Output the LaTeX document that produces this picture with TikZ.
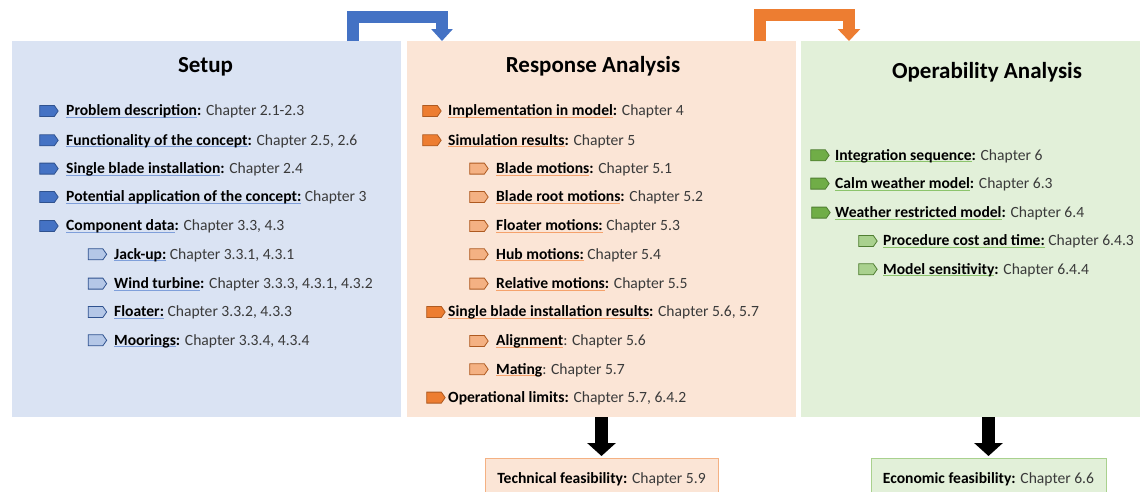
\documentclass[tikz,border=0pt]{standalone}
\usepackage{fontspec}
\setmainfont{Carlito}
\usetikzlibrary{arrows.meta,shapes.symbols}
\definecolor{setupfill}{HTML}{DAE3F3}
\definecolor{respfill}{HTML}{FBE5D6}
\definecolor{operfill}{HTML}{E2F0D9}
\definecolor{arrblue}{HTML}{4472C4}
\definecolor{arrorange}{HTML}{ED7D31}
\definecolor{txtgray}{HTML}{3A3A3A}
\definecolor{ulblue}{HTML}{7F9FDA}
\definecolor{ulorange}{HTML}{F5A26C}
\definecolor{ulgreen}{HTML}{8CC46C}
\definecolor{bl1}{HTML}{4472C4}
\definecolor{bl2}{HTML}{B4C7E7}
\definecolor{bld}{HTML}{2F528F}
\definecolor{or1}{HTML}{ED7D31}
\definecolor{or2}{HTML}{F4B183}
\definecolor{ord}{HTML}{AE5A21}
\definecolor{gr1}{HTML}{70AD47}
\definecolor{gr2}{HTML}{A9D18E}
\definecolor{grd}{HTML}{507E32}
\definecolor{orbord}{HTML}{F4B183}
\definecolor{grbord}{HTML}{A9D18E}
\newsavebox\myulbox
\newcommand\myul[2]{\sbox\myulbox{#2}\rlap{\textcolor{#1}{\rule[-2.4pt]{\wd\myulbox}{1pt}}}\usebox\myulbox}
\newcommand\ubl[1]{\textbf{\textcolor{black}{\myul{ulblue}{#1}}}}
\newcommand\uor[1]{\textbf{\textcolor{black}{\myul{ulorange}{#1}}}}
\newcommand\ugr[1]{\textbf{\textcolor{black}{\myul{ulgreen}{#1}}}}
\newcommand\cln{\textbf{\textcolor{black}{:}}}
\newcommand\bk[1]{\textbf{\textcolor{black}{#1}}}
\newcommand\entry[6]{\node[#2] (#1m) at (#3,#5-4.7) {}; \node[txt] (#1) at (#4,#5) {#6};}
\tikzset{
  panel/.style={anchor=north west, inner sep=0, draw=none},
  txt/.style={anchor=base west, inner sep=0, text=txtgray, font=\fontsize{15.6}{18}\selectfont},
  ttl/.style={anchor=base, inner sep=0, text=black, font=\fontsize{23}{26}\selectfont\bfseries},
  mk/.style={signal, signal to=east, signal pointer angle=110, minimum width=18.5pt, minimum height=11pt, inner sep=0, line width=0.8pt},
  mkb1/.style={mk, fill=bl1, draw=bld},
  mkb2/.style={mk, fill=bl2, draw=bld},
  mko1/.style={mk, fill=or1, draw=ord},
  mko2/.style={mk, fill=or2, draw=ord},
  mkg1/.style={mk, fill=gr1, draw=grd},
  mkg2/.style={mk, fill=gr2, draw=grd},
  elbow/.style={line width=12pt},
  downarr/.style={line width=12.5pt, black, -{Triangle[width=28pt,length=13pt]}},
  feas/.style={anchor=north, inner sep=0, line width=1pt, minimum height=50pt},
}
\begin{document}
\begin{tikzpicture}[x=1pt,y=-1pt]
\path[use as bounding box] (0,0) rectangle (1140,491);
\clip (0,0) rectangle (1140,491);
% panels
\node[panel, fill=setupfill, minimum width=389pt, minimum height=376pt] (setup) at (12,41) {};
\node[panel, fill=respfill, minimum width=389pt, minimum height=376pt] (resp) at (407,41) {};
\node[panel, fill=operfill, minimum width=340pt, minimum height=376pt] (oper) at (801,41) {};
% titles
\node[ttl] (setupt) at (205.5,72.7) {Setup};
\node[ttl] (respt) at (593,72.7) {Response Analysis};
\node[ttl] (opert) at (987,78.3) {Operability Analysis};
% Setup entries
\entry{s1}{mkb1}{47}{66}{115.7}{\ubl{Problem description}\cln{} Chapter 2.1-2.3}
\entry{s2}{mkb1}{47}{66}{145}{\ubl{Functionality of the concept}\cln{} Chapter 2.5, 2.6}
\entry{s3}{mkb1}{47}{66}{173.3}{\ubl{Single blade installation}\cln{} Chapter 2.4}
\entry{s4}{mkb1}{47}{66}{201.7}{\ubl{Potential application of the concept:} Chapter 3}
\entry{s5}{mkb1}{47}{66}{230.7}{\ubl{Component data}\cln{} Chapter 3.3, 4.3}
\entry{s6}{mkb2}{95.5}{114}{259}{\ubl{Jack-up:} Chapter 3.3.1, 4.3.1}
\entry{s7}{mkb2}{95.5}{114}{288.3}{\ubl{Wind turbine}\cln{} Chapter 3.3.3, 4.3.1, 4.3.2}
\entry{s8}{mkb2}{95.5}{114}{316.7}{\ubl{Floater:} Chapter 3.3.2, 4.3.3}
\entry{s9}{mkb2}{95.5}{114}{345}{\ubl{Moorings}\cln{} Chapter 3.3.4, 4.3.4}
% Response entries
\entry{r1}{mko1}{430}{448}{115.7}{\uor{Implementation in model}\cln{} Chapter 4}
\entry{r2}{mko1}{430}{448}{145}{\uor{Simulation results}\cln{} Chapter 5}
\entry{r3}{mko2}{477}{496}{173.3}{\uor{Blade motions}\cln{} Chapter 5.1}
\entry{r4}{mko2}{477}{496}{201.7}{\uor{Blade root motions}\cln{} Chapter 5.2}
\entry{r5}{mko2}{477}{496}{230.7}{\uor{Floater motions:} Chapter 5.3}
\entry{r6}{mko2}{477}{496}{259}{\uor{Hub motions:} Chapter 5.4}
\entry{r7}{mko2}{477}{496}{288.3}{\uor{Relative motions}\cln{} Chapter 5.5}
\entry{r8}{mko1}{434}{448}{316.7}{\uor{Single blade installation results}\cln{} Chapter 5.6, 5.7}
\entry{r9}{mko2}{477}{496}{345.7}{\uor{Alignment}: Chapter 5.6}
\entry{r10}{mko2}{477}{496}{374}{\uor{Mating}: Chapter 5.7}
\entry{r11}{mko1}{434}{448}{402.3}{\bk{Operational limits:} Chapter 5.7, 6.4.2}
% Operability entries
\entry{o1}{mkg1}{818}{835}{160}{\ugr{Integration sequence}\cln{} Chapter 6}
\entry{o2}{mkg1}{818}{835}{188.3}{\ugr{Calm weather model}\cln{} Chapter 6.3}
\entry{o3}{mkg1}{819}{835}{217.3}{\ugr{Weather restricted model}\cln{} Chapter 6.4}
\entry{o4}{mkg2}{866}{883}{245.7}{\ugr{Procedure cost and time:} Chapter 6.4.3}
\entry{o5}{mkg2}{866}{883}{274}{\ugr{Model sensitivity}\cln{} Chapter 6.4.4}
% feasibility boxes
\node[feas, draw=orbord, fill=respfill, minimum width=233pt] (tech) at (601.5,458) {};
\node[txt, anchor=base] (techt) at (601.5,483) {\bk{Technical feasibility:} Chapter 5.9};
\node[feas, draw=grbord, fill=operfill, minimum width=235pt] (econ) at (988.5,458) {};
\node[txt, anchor=base] (econt) at (988.5,483) {\bk{Economic feasibility:} Chapter 6.6};
% elbow arrows
\draw[elbow, arrblue, -{Triangle[width=21pt,length=12pt]}] (353,0 |- setup.north) -- (353,17) -- (442,17) -- (442,0 |- resp.north);
\draw[elbow, arrorange, -{Triangle[width=22pt,length=12pt]}] (759.5,0 |- resp.north) -- (759.5,15) -- (849,15) -- (849,0 |- oper.north);
% down arrows
\draw[downarr] (tech.north |- resp.south) -- ([yshift=2pt]tech.north);
\draw[downarr] (econ.north |- oper.south) -- ([yshift=2pt]econ.north);
\end{tikzpicture}
\end{document}
